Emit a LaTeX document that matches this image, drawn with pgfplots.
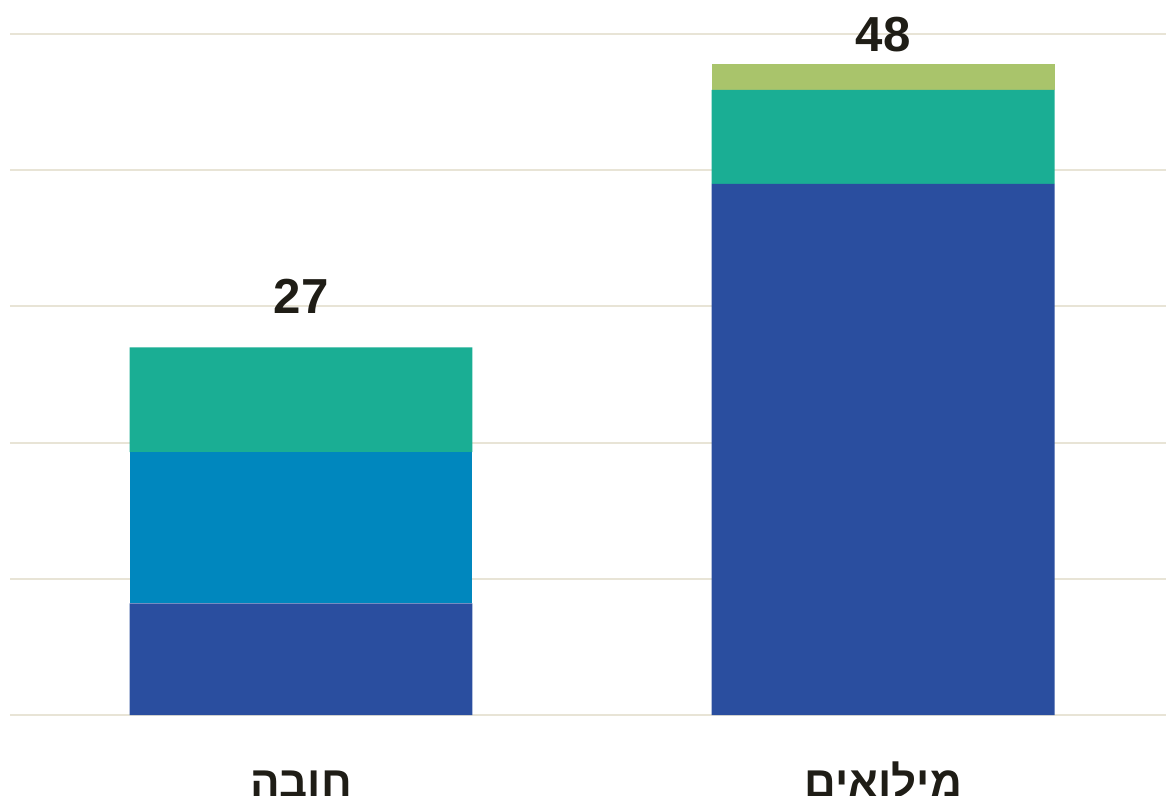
\documentclass[border=0pt]{standalone}
\usepackage{pgfplots}
\pgfplotsset{compat=1.18}
\usepackage{pgfplotstable}
\usepackage{fontspec}
\setmainfont{Liberation Sans}
\newfontfamily\hebfont[Script=Hebrew]{Liberation Sans}
\TeXXeTstate=1

\definecolor{darkblue}{HTML}{2A4E9F}
\definecolor{midblue}{HTML}{0087BE}
\definecolor{teal}{HTML}{1AAE94}
\definecolor{lime}{HTML}{A9C46B}
\definecolor{gridc}{HTML}{E8E4D6}
\definecolor{txt}{HTML}{1F1D16}

% values per bar
\pgfplotstableread{
x dark blue teal green
0 8.2 11.1 7.7 0
1 39.0 0 6.9 1.9
}\data

% totals shown above the bars; off = label offset above the bar (px)
\pgfplotstableread{
x total lab off
0 27.0 27 34
1 47.8 48 12
}\totals

\pgfplotsset{common/.style={
    scale only axis,
    width=23.12cm,
    height=13.62cm,
    xmin=-0.5, xmax=1.486,
    ymin=0, ymax=50,
    enlarge x limits=false,
    clip=false,
}}

\begin{document}
\begin{tikzpicture}
\begin{axis}[
    common,
    ybar stacked,
    bar width=0.589,
    axis line style={draw=none},
    major tick length=0pt,
    ytick={0,10,...,50},
    yticklabels={},
    ymajorgrids,
    grid style={color=gridc, line width=1.2pt},
    xtick={0,1},
    xticklabels={{\beginR חובה\endR},{\beginR מילואים\endR}},
    xticklabel style={font=\hebfont\bfseries\fontsize{25}{28}\selectfont, text=txt,
        anchor=base, inner sep=0pt, yshift=-1.64cm},
]
\addplot[fill=darkblue, draw=none] table[x=x, y=dark] {\data};
\addplot[fill=midblue, draw=none] table[x=x, y=blue] {\data};
\addplot[fill=teal, draw=none] table[x=x, y=teal] {\data};
\addplot[fill=lime, draw=none] table[x=x, y=green] {\data};
\end{axis}
\begin{axis}[common, hide axis]
\addplot[only marks, mark=none,
    nodes near coords,
    point meta=explicit symbolic,
    visualization depends on={\thisrow{off} \as \myoff},
    every node near coord/.append style={font=\bfseries\fontsize{28}{30}\selectfont,
        text=txt, anchor=base, inner sep=0pt, yshift=\myoff*0.02cm},
] table[x=x, y=total, meta=lab] {\totals};
\end{axis}
\pgfresetboundingbox
\useasboundingbox (-0.2cm,-1.6cm) rectangle (23.12cm,14.3cm);
\end{tikzpicture}
\end{document}
